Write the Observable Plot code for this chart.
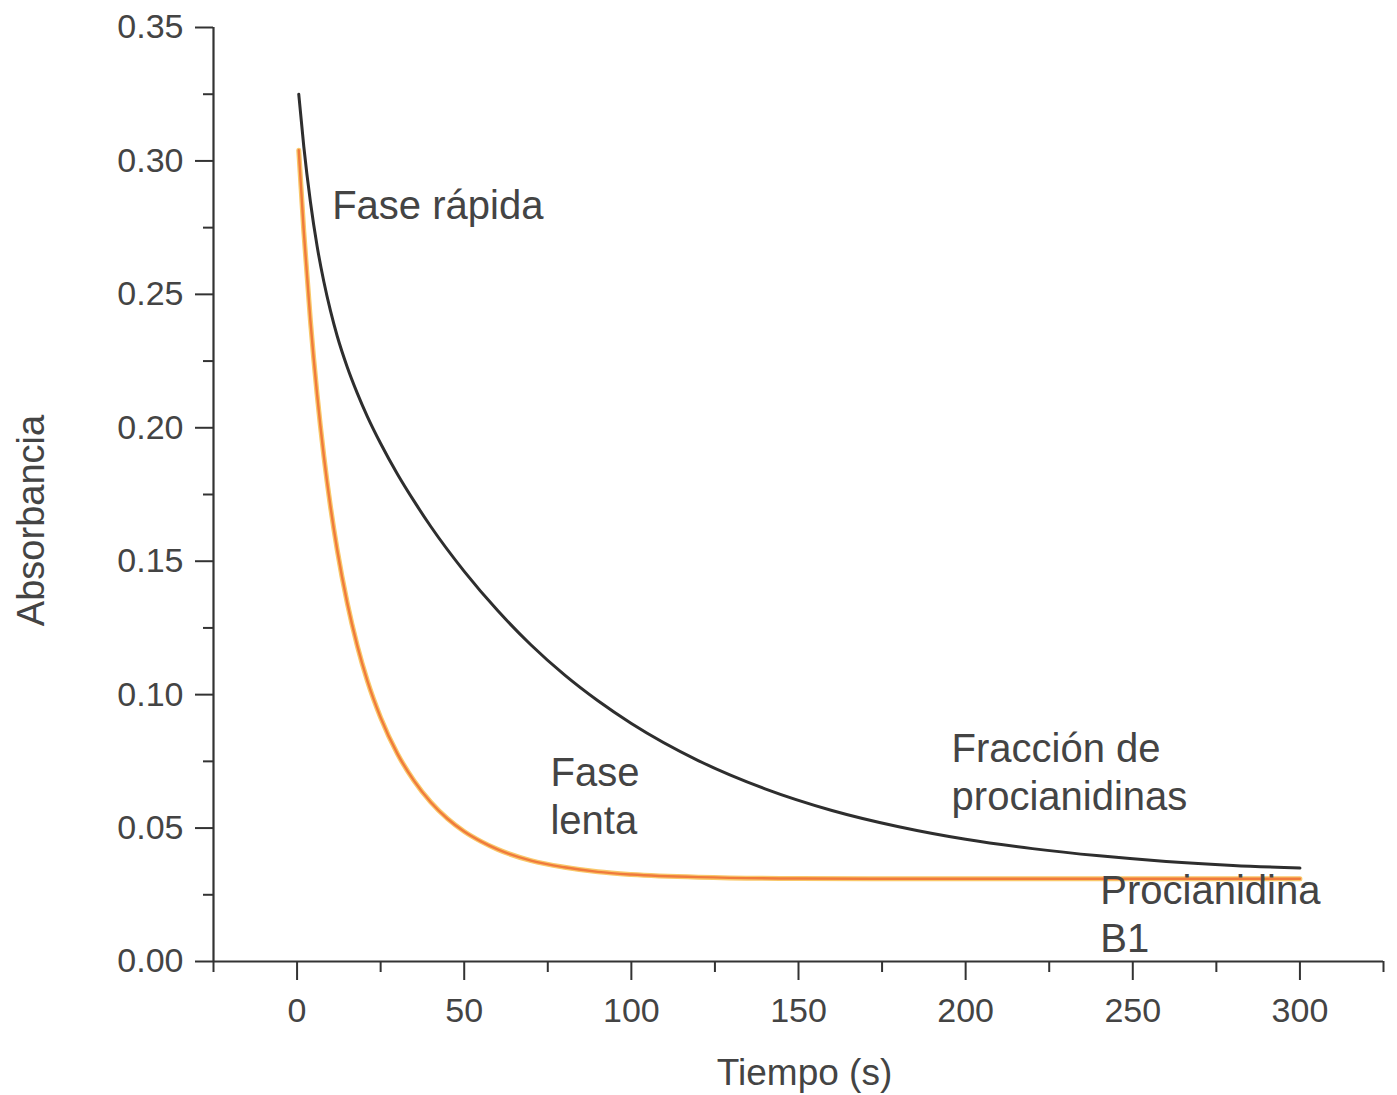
<!DOCTYPE html>
<html>
<head>
<meta charset="utf-8">
<script src="https://cdn.jsdelivr.net/npm/d3@7"></script>
<script src="https://cdn.jsdelivr.net/npm/@observablehq/plot@0.6"></script>
<style>
  html, body { margin: 0; padding: 0; background: #fff; }
  svg { display: block; }
</style>
</head>
<body>
<script>
// Absorbance decay of the procyanidin fraction (dark curve)
const fraccionTiempo = [0.5, 2, 4, 6, 8, 10, 12, 15, 18, 21, 25, 30, 35, 40, 50, 60, 70, 80, 90, 100, 120, 140, 160, 180, 200, 220, 240, 260, 280, 300];
const fraccionAbs    = [0.325, 0.3055, 0.2846, 0.268, 0.2548, 0.2438, 0.2344, 0.2228, 0.213, 0.2043, 0.1941, 0.1827, 0.1725, 0.163, 0.1462, 0.1315, 0.1186, 0.1074, 0.0977, 0.0892, 0.0753, 0.0647, 0.0566, 0.0505, 0.0458, 0.0423, 0.0396, 0.0375, 0.036, 0.035];

// Absorbance decay of procyanidin B1 (orange curve)
const b1Tiempo = [0.5, 2, 4, 6, 8, 10, 12, 15, 18, 21, 25, 30, 35, 40, 45, 50, 55, 60, 70, 80, 90, 100, 120, 150, 200, 250, 300];
const b1Abs    = [0.304, 0.2737, 0.240, 0.2124, 0.1895, 0.1704, 0.1543, 0.1344, 0.1184, 0.1053, 0.0914, 0.0779, 0.0677, 0.0597, 0.0535, 0.0487, 0.045, 0.042, 0.0378, 0.0353, 0.0336, 0.0326, 0.0316, 0.0311, 0.031, 0.031, 0.031];

// Axis ticks
const xMajor = [0, 50, 100, 150, 200, 250, 300];
const xMinor = [-25, 25, 75, 125, 175, 225, 275, 325];
const yMajor = [0, 0.05, 0.10, 0.15, 0.20, 0.25, 0.30, 0.35];
const yMinor = [0.025, 0.075, 0.125, 0.175, 0.225, 0.275, 0.325];

// Annotations: label text, anchor time and absorbance of the last baseline
const notaTexto = ["Fase rápida", "Fase\nlenta", "Fracción de\nprocianidinas", "Procianidina\nB1"];
const notaX = [10.5, 75.8, 195.8, 240.3];
const notaY = [0.2784, 0.0476, 0.0566, 0.0035];

const fraccion = fraccionTiempo.map((t, i) => ({t, a: fraccionAbs[i]}));
const b1 = b1Tiempo.map((t, i) => ({t, a: b1Abs[i]}));
const notas = notaTexto.map((texto, i) => ({texto, x: notaX[i], y: notaY[i]}));

const ink = "#333";
const textInk = "#444";
const font = "Liberation Sans, Arial, sans-serif";

const chart = Plot.plot({
  width: 1397,
  height: 1095,
  marginLeft: 213,
  marginRight: 14,
  marginTop: 27,
  marginBottom: 134,
  style: {background: "#fff", fontFamily: font, color: textInk},
  x: {domain: [-25, 325]},
  y: {domain: [0, 0.35]},
  marks: [
    // axis lines
    Plot.ruleY([0], {stroke: ink, strokeWidth: 2.2}),
    Plot.ruleX([-25], {stroke: ink, strokeWidth: 2.2}),
    // x axis
    Plot.axisX({ticks: xMajor, tickSize: 19, tickPadding: 17, tickFormat: d => String(d),
      stroke: ink, strokeWidth: 2, fill: textInk, fontSize: 34, label: null}),
    Plot.axisX({ticks: xMinor, tickSize: 11, tickFormat: () => "", stroke: ink, strokeWidth: 2, label: null}),
    // y axis
    Plot.axisY({ticks: yMajor, tickSize: 18, tickPadding: 12, tickFormat: d3.format(".2f"),
      stroke: ink, strokeWidth: 2, fill: textInk, fontSize: 34, label: null}),
    Plot.axisY({ticks: yMinor, tickSize: 10, tickFormat: () => "", stroke: ink, strokeWidth: 2, label: null}),
    // axis titles
    Plot.text(["Tiempo (s)"], {frameAnchor: "bottom", dx: 6, dy: 123, lineAnchor: "bottom",
      fontSize: 37, fill: textInk}),
    Plot.text(["Absorbancia"], {frameAnchor: "left", dx: -170, dy: 26, rotate: -90, lineAnchor: "bottom",
      textAnchor: "middle", fontSize: 38, fill: textInk}),
    // curves
    Plot.line(fraccion, {x: "t", y: "a", stroke: "#2e2e2e", strokeWidth: 3, curve: "monotone-x"}),
    Plot.line(b1, {x: "t", y: "a", stroke: "#f9c86a", strokeWidth: 5, curve: "monotone-x"}),
    Plot.line(b1, {x: "t", y: "a", stroke: "#f07a3c", strokeWidth: 2.4, curve: "monotone-x"}),
    // annotations
    Plot.text(notas, {x: "x", y: "y", text: "texto", textAnchor: "start", lineAnchor: "bottom",
      lineHeight: 1.2, fontSize: 40, fill: textInk})
  ]
});

document.body.appendChild(chart);
</script>
</body>
</html>
